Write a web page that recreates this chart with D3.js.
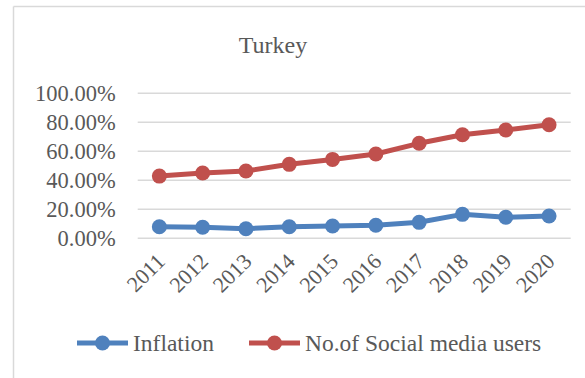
<!DOCTYPE html>
<html>
<head>
<meta charset="utf-8">
<script src="https://cdn.jsdelivr.net/npm/d3@7"></script>
</head>
<body style="margin:0;background:#fff">
<svg id="chart" width="585" height="378"></svg>
<script>
// Chart data
const years = ["2011", "2012", "2013", "2014", "2015", "2016", "2017", "2018", "2019", "2020"];
const inflation = [7.6, 7.2, 6.2, 7.6, 8.1, 8.6, 10.6, 16.1, 14.1, 15.0];
const socialMedia = [42.5, 44.6, 46.0, 50.6, 54.0, 57.7, 65.1, 71.0, 74.3, 77.9];
const yTicks = [0, 20, 40, 60, 80, 100];
const seriesNames = ["Inflation", "No.of Social media users"];
const seriesColors = ["#4f81bd", "#c0504d"];

const FONT = "'Liberation Serif'";
const TEXT_COLOR = "#595959";

const svg = d3.select("#chart");
const W = 585, H = 378;

// Chart frame (left and top edges visible)
svg.append("line").attr("x1", 13.5).attr("y1", 6.5).attr("x2", 13.5).attr("y2", H)
  .attr("stroke", "#d9d9d9").attr("stroke-width", 1.5);
svg.append("line").attr("x1", 13.5).attr("y1", 6.5).attr("x2", W).attr("y2", 6.5)
  .attr("stroke", "#d9d9d9").attr("stroke-width", 1.5);

const plot = { left: 137.7, right: 570.7, top: 92.7, bottom: 237.7 };

const x = d3.scaleBand().domain(years).range([plot.left, plot.right]);
const y = d3.scaleLinear().domain([0, 100]).range([plot.bottom, plot.top]);

// Title
svg.append("text").attr("x", 273).attr("y", 53).attr("text-anchor", "middle")
  .style("font-family", FONT).style("fill", TEXT_COLOR)
  .style("font-size", "24px").text("Turkey");

// Gridlines and y labels
const yAxis = d3.axisLeft(y).tickValues(yTicks)
  .tickSize(-(plot.right - plot.left))
  .tickPadding(22)
  .tickFormat(d => d.toFixed(2) + "%");
const gy = svg.append("g").attr("transform", `translate(${plot.left},0)`).call(yAxis);
gy.select(".domain").remove();
gy.selectAll(".tick line").attr("stroke", "#d9d9d9").attr("stroke-width", 1.5);
gy.selectAll(".tick text")
  .style("font-size", "22.5px").style("font-family", FONT).style("fill", TEXT_COLOR)
  .attr("dy", "0.34em");

// X axis labels (rotated)
const xAxis = d3.axisBottom(x).tickSize(0).tickPadding(0);
const gx = svg.append("g").attr("transform", `translate(0,${plot.bottom})`).call(xAxis);
gx.select(".domain").remove();
gx.selectAll(".tick text")
  .style("font-size", "22px").style("font-family", FONT).style("fill", TEXT_COLOR)
  .attr("text-anchor", "end")
  .attr("dy", null).attr("y", 0)
  .attr("transform", "translate(7,25) rotate(-45)");

// Series lines and markers
const series = [inflation, socialMedia];
const line = d3.line().x((d, i) => x(years[i]) + x.bandwidth() / 2).y(d => y(d));
series.forEach((vals, s) => {
  svg.append("path").datum(vals).attr("d", line)
    .attr("fill", "none").attr("stroke", seriesColors[s]).attr("stroke-width", 5)
    .attr("stroke-linejoin", "round");
  svg.append("g").selectAll("circle").data(vals).join("circle")
    .attr("cx", (d, i) => x(years[i]) + x.bandwidth() / 2)
    .attr("cy", d => y(d))
    .attr("r", 7.5)
    .attr("fill", seriesColors[s]);
});

// Legend
const legendItems = [
  { x: 77, textX: 133 },
  { x: 249, textX: 305 }
];
legendItems.forEach((item, s) => {
  const g = svg.append("g");
  g.append("line").attr("x1", item.x).attr("x2", item.x + 51).attr("y1", 343).attr("y2", 343)
    .attr("stroke", seriesColors[s]).attr("stroke-width", 5);
  g.append("circle").attr("cx", item.x + 25.5).attr("cy", 343).attr("r", 7.5).attr("fill", seriesColors[s]);
  g.append("text").attr("x", item.textX).attr("y", 351)
    .style("font-family", FONT).style("fill", TEXT_COLOR)
    .style("font-size", "23.5px").text(seriesNames[s]);
});
</script>
</body>
</html>
